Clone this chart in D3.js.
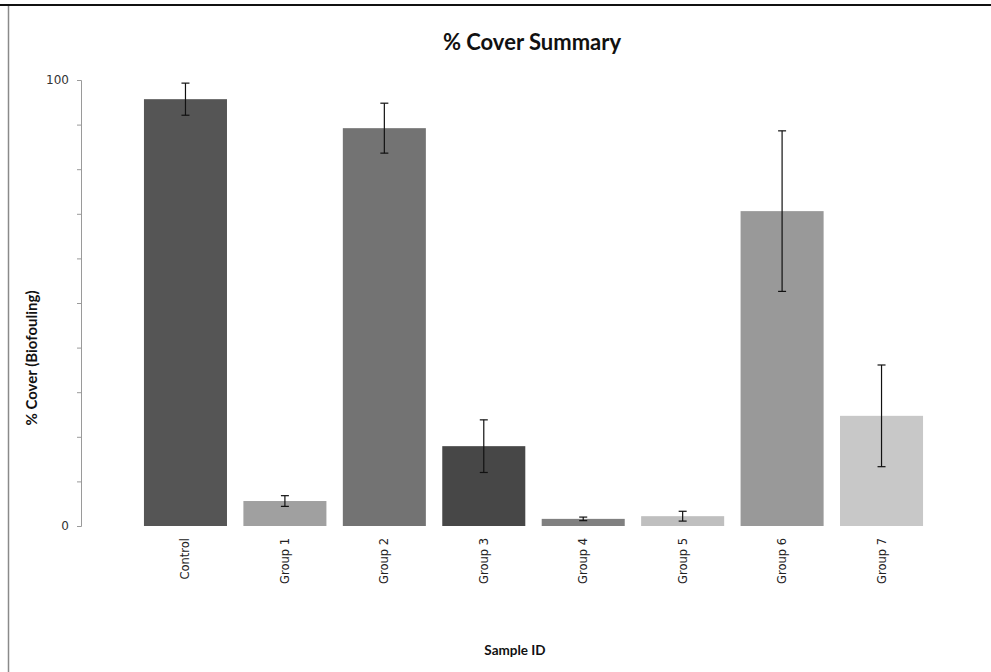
<!DOCTYPE html>
<html>
<head>
<meta charset="utf-8">
<script src="https://cdn.jsdelivr.net/npm/d3@7"></script>
<style>
  body { margin: 0; background: #fff; }
  svg { display: block; }
</style>
</head>
<body>
<svg id="chart" width="991" height="672"></svg>
<script>
// chart data
const categories = ["Control", "Group 1", "Group 2", "Group 3", "Group 4", "Group 5", "Group 6", "Group 7"];
const coverValues = [95.7, 5.6, 89.2, 17.9, 1.6, 2.2, 70.6, 24.7];
const coverErrors = [3.6, 1.2, 5.6, 5.9, 0.4, 1.1, 18.0, 11.4];
const barColors = ["#555555", "#a0a0a0", "#737373", "#474747", "#808080", "#bfbfbf", "#999999", "#c8c8c8"];
const yTickLabels = [0, 100];

const svg = d3.select("#chart");
const width = 991, height = 672;

// frame lines
svg.append("line")
    .attr("x1", 0).attr("x2", width).attr("y1", 5).attr("y2", 5)
    .attr("stroke", "#111").attr("stroke-width", 2);
svg.append("line")
    .attr("x1", 8.5).attr("x2", 8.5).attr("y1", 6).attr("y2", height)
    .attr("stroke", "#8a8a8a").attr("stroke-width", 1.5);

const x = d3.scaleBand()
    .domain(categories)
    .range([136, 931])
    .paddingInner(0.165)
    .paddingOuter(0.08);

const y = d3.scaleLinear()
    .domain([0, 100])
    .range([526, 80]);

// y axis: minor ticks every 10, labels only at 0 and 100
const yAxis = d3.axisLeft(y)
    .tickValues(d3.range(0, 101, 10))
    .tickSize(4)
    .tickFormat(d => yTickLabels.includes(d) ? d : "");

const gy = svg.append("g")
    .attr("transform", "translate(81,0)")
    .call(yAxis);
gy.select(".domain").attr("stroke", "#9a9a9a");
gy.selectAll(".tick line").attr("stroke", "#9a9a9a");
gy.selectAll(".tick text")
    .attr("x", -12)
    .attr("fill", "#333")
    .style("font-family", "DejaVu Sans")
    .style("font-size", "12px");

// bars
svg.selectAll("rect.bar")
    .data(categories)
    .enter().append("rect")
    .attr("class", "bar")
    .attr("x", d => x(d))
    .attr("width", x.bandwidth())
    .attr("y", (d, i) => y(coverValues[i]))
    .attr("height", (d, i) => y(0) - y(coverValues[i]))
    .attr("fill", (d, i) => barColors[i]);

// error bars
const errG = svg.append("g").attr("stroke", "#111").attr("stroke-width", 1.2);
categories.forEach((c, i) => {
    const cx = x(c) + x.bandwidth() / 2;
    const hi = y(coverValues[i] + coverErrors[i]);
    const lo = y(coverValues[i] - coverErrors[i]);
    errG.append("line").attr("x1", cx).attr("x2", cx).attr("y1", hi).attr("y2", lo);
    errG.append("line").attr("x1", cx - 4).attr("x2", cx + 4).attr("y1", hi).attr("y2", hi);
    errG.append("line").attr("x1", cx - 4).attr("x2", cx + 4).attr("y1", lo).attr("y2", lo);
});

// category labels, rotated
svg.selectAll("text.cat")
    .data(categories)
    .enter().append("text")
    .attr("class", "cat")
    .attr("transform", d => `translate(${x(d) + x.bandwidth() / 2 + 4},538) rotate(-90)`)
    .attr("text-anchor", "end")
    .attr("fill", "#222")
    .style("font-family", "DejaVu Sans")
    .style("font-size", "11.5px")
    .text(d => d);

// titles
svg.append("text")
    .attr("x", 532).attr("y", 50)
    .attr("text-anchor", "middle")
    .style("font-family", "Lato")
    .style("font-weight", "bold")
    .style("font-size", "22px")
    .attr("fill", "#111")
    .text("% Cover Summary");

svg.append("text")
    .attr("transform", "translate(37,358) rotate(-90)")
    .attr("text-anchor", "middle")
    .style("font-family", "Lato")
    .style("font-weight", "bold")
    .style("font-size", "15px")
    .attr("fill", "#111")
    .text("% Cover (Biofouling)");

svg.append("text")
    .attr("x", 515).attr("y", 655)
    .attr("text-anchor", "middle")
    .style("font-family", "Lato")
    .style("font-weight", "bold")
    .style("font-size", "13.5px")
    .attr("fill", "#111")
    .text("Sample ID");
</script>
</body>
</html>
